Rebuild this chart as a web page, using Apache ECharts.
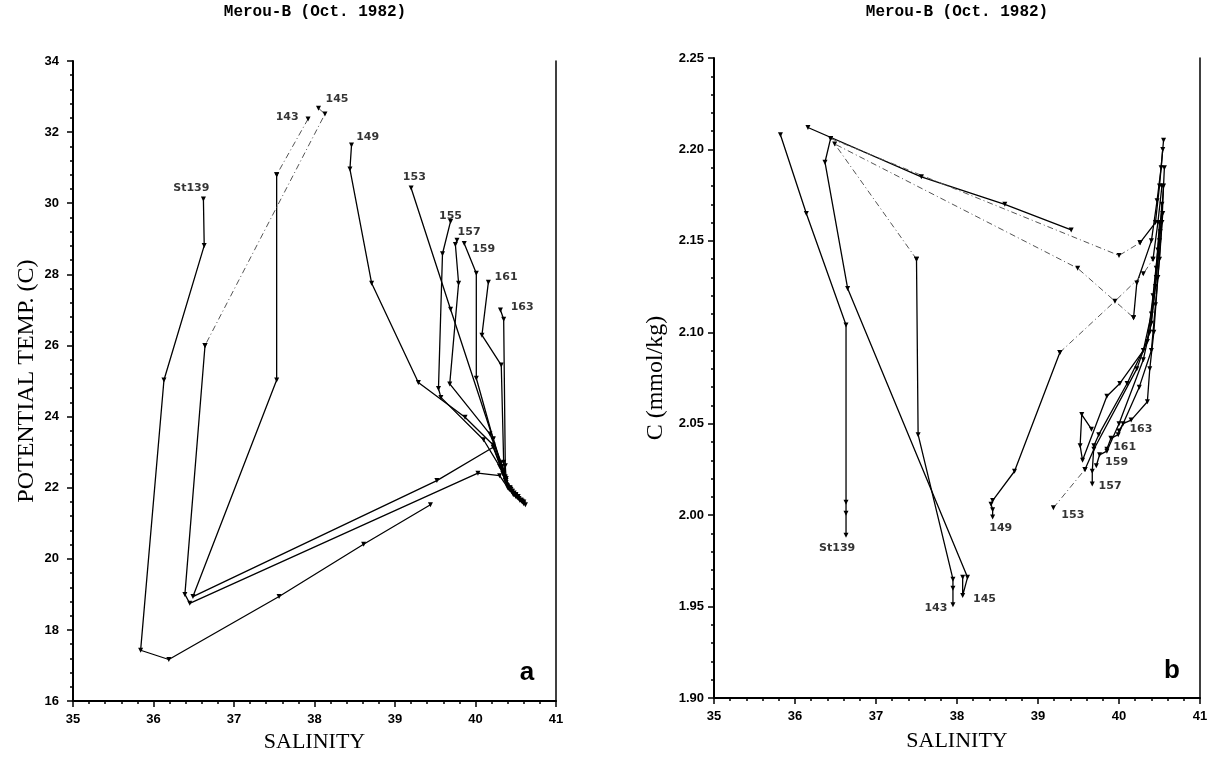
<!DOCTYPE html>
<html>
<head>
<meta charset="utf-8">
<title>Merou-B (Oct. 1982)</title>
<script src="https://cdn.jsdelivr.net/npm/echarts@6/dist/echarts.min.js"></script>
<style>
html, body { margin: 0; padding: 0; background: #fff; }
#chart { width: 1212px; height: 758px; }
</style>
</head>
<body>
<div id="chart"></div>
<script>
// panel a: [salinity, potential temp]; each station listed surface first
const st139A = [[36.62, 30.12], [36.63, 28.81], [36.13, 25.03], [35.84, 17.43], [36.19, 17.17], [37.56, 18.94], [38.61, 20.41], [39.44, 21.52]];
const st143ADash = [[37.92, 32.37], [37.53, 30.80]];
const st143A = [[37.53, 30.80], [37.53, 25.03], [36.49, 18.94], [39.52, 22.20], [40.22, 23.14], [40.36, 22.30], [40.42, 21.95], [40.50, 21.75], [40.58, 21.60]];
const st145ADash = [[38.05, 32.67], [38.13, 32.51], [36.64, 26.00]];
const st145A = [[36.64, 26.00], [36.39, 19.00], [36.45, 18.75], [40.03, 22.41], [40.30, 22.34], [40.40, 22.00], [40.47, 21.80], [40.55, 21.65], [40.60, 21.55]];
const st149A = [[38.46, 31.64], [38.44, 30.96], [38.71, 27.75], [39.29, 24.96], [39.87, 23.98], [40.22, 23.20], [40.34, 22.40], [40.40, 22.05], [40.48, 21.85], [40.54, 21.70]];
const st153A = [[39.20, 30.43], [39.69, 27.02], [40.22, 23.37], [40.33, 22.50], [40.38, 22.15], [40.45, 21.90], [40.52, 21.72], [40.60, 21.60]];
const st155A = [[39.69, 29.49], [39.59, 28.58], [39.54, 24.79], [39.57, 24.54], [40.10, 23.35], [40.30, 22.60], [40.37, 22.20], [40.44, 21.95], [40.50, 21.80]];
const st157A = [[39.77, 28.96], [39.75, 28.84], [39.79, 27.75], [39.68, 24.92], [40.18, 23.51], [40.32, 22.70], [40.38, 22.25], [40.43, 22.00], [40.50, 21.80], [40.57, 21.65]];
const st159A = [[39.86, 28.87], [40.01, 28.03], [40.01, 25.08], [40.22, 23.37], [40.33, 22.60], [40.38, 22.20], [40.46, 21.90], [40.53, 21.75]];
const st161A = [[40.16, 27.78], [40.08, 26.29], [40.32, 25.45], [40.35, 22.72], [40.37, 22.30], [40.42, 22.00], [40.50, 21.80], [40.58, 21.62]];
const st163A = [[40.31, 27.00], [40.35, 26.74], [40.37, 22.62], [40.38, 22.25], [40.43, 21.98], [40.50, 21.78], [40.56, 21.65], [40.62, 21.52]];

// panel b: [salinity, C (mmol/kg)]
const st139B = [[36.63, 1.989], [36.63, 2.001], [36.63, 2.007], [36.63, 2.104], [36.14, 2.165], [35.82, 2.208]];
const st139BDeep = [[36.16, 2.212], [37.56, 2.185], [38.59, 2.170], [39.41, 2.156]];
const st143B = [[37.95, 1.951], [37.95, 1.960], [37.95, 1.965], [37.52, 2.044], [37.50, 2.140]];
const st143BDash = [[37.50, 2.140], [36.49, 2.203], [39.49, 2.135], [40.18, 2.108]];
const st143BDeep = [[40.18, 2.108], [40.22, 2.127], [40.40, 2.150], [40.47, 2.172], [40.52, 2.190], [40.55, 2.205]];
const st145B = [[38.07, 1.966], [38.07, 1.956], [38.13, 1.966], [36.65, 2.124], [36.37, 2.193], [36.44, 2.206]];
const st145BDash = [[36.44, 2.206], [40.00, 2.142], [40.26, 2.149]];
const st145BDeep = [[40.26, 2.149], [40.45, 2.160], [40.50, 2.180], [40.54, 2.200]];
const st149B = [[38.44, 1.999], [38.44, 2.003], [38.42, 2.006], [38.44, 2.008], [38.71, 2.024], [39.27, 2.089]];
const st149BDash = [[39.27, 2.089], [39.95, 2.117], [40.30, 2.132], [40.42, 2.140]];
const st149BDeep = [[40.42, 2.140], [40.48, 2.160], [40.53, 2.180]];
const st153BDash = [[39.19, 2.004], [39.58, 2.025]];
const st153B = [[39.58, 2.025], [39.69, 2.036], [40.22, 2.080], [40.38, 2.100], [40.45, 2.125], [40.50, 2.150]];
const st155B = [[39.66, 2.047], [39.54, 2.055], [39.52, 2.038], [39.55, 2.030], [39.85, 2.065], [40.01, 2.072], [40.30, 2.090], [40.40, 2.110], [40.46, 2.135], [40.50, 2.160]];
const st157B = [[39.67, 2.017], [39.67, 2.024], [39.69, 2.038], [39.75, 2.044], [40.10, 2.072], [40.35, 2.095], [40.42, 2.120], [40.48, 2.145], [40.53, 2.170]];
const st159B = [[39.72, 2.027], [39.76, 2.033], [39.85, 2.035], [40.00, 2.050], [40.30, 2.085], [40.40, 2.105], [40.46, 2.130], [40.51, 2.155], [40.55, 2.180]];
const st161B = [[39.85, 2.036], [39.90, 2.042], [39.99, 2.044], [40.25, 2.070], [40.40, 2.090], [40.45, 2.115], [40.50, 2.140], [40.54, 2.165]];
const st163B = [[40.00, 2.046], [40.05, 2.050], [40.15, 2.052], [40.35, 2.062], [40.38, 2.080], [40.43, 2.100], [40.48, 2.130], [40.53, 2.160], [40.56, 2.190]];

// station labels, [salinity, value, text]
const labelsA = [[36.47, 30.43, 'St139'], [37.66, 32.43, '143'], [38.28, 32.93, '145'], [38.66, 31.87, '149'], [39.24, 30.72, '153'],
  [39.69, 29.65, '155'], [39.92, 29.18, '157'], [40.10, 28.70, '159'], [40.38, 27.91, '161'], [40.58, 27.09, '163']];
const labelsB = [[36.52, 1.982, 'St139'], [37.74, 1.949, '143'], [38.34, 1.954, '145'], [38.54, 1.993, '149'], [39.43, 2.000, '153'],
  [39.89, 2.016, '157'], [39.97, 2.029, '159'], [40.07, 2.037, '161'], [40.27, 2.047, '163']];

const title = 'Merou-B (Oct. 1982)';

function line(data, panel, dashed) {
  return {
    type: 'line', data: data, xAxisIndex: panel, yAxisIndex: panel * 2,
    symbol: 'triangle', symbolRotate: 180, symbolSize: 5,
    lineStyle: dashed ? { color: '#555', width: 1, type: [6, 3, 1, 3] } : { color: '#000', width: 1.3 },
    itemStyle: { color: '#000' },
    animation: false, silent: true
  };
}

function labels(data, panel) {
  return {
    type: 'scatter', data: data, xAxisIndex: panel, yAxisIndex: panel * 2,
    symbolSize: 0, animation: false, silent: true,
    label: {
      show: true, position: 'inside', formatter: p => p.value[2],
      color: '#000', fontFamily: 'DejaVu Sans', fontWeight: 'bold', fontSize: 11
    }
  };
}

const axisLine = { show: true, onZero: false, lineStyle: { color: '#000', width: 2 } };
const tickLabel = { color: '#000', fontFamily: 'Liberation Sans', fontWeight: 'bold', fontSize: 13 };
const nameStyle = { color: '#000', fontFamily: 'Liberation Serif', fontSize: 22 };

function xAxis(grid, gap) {
  return {
    type: 'value', gridIndex: grid, min: 35, max: 41, interval: 1,
    name: 'SALINITY', nameLocation: 'middle', nameGap: gap, nameTextStyle: nameStyle,
    axisLine: axisLine, axisTick: { length: 6, lineStyle: { color: '#000', width: 1.5 } },
    minorTick: { show: true, splitNumber: 5, length: 3, lineStyle: { color: '#000', width: 1.5 } },
    axisLabel: Object.assign({ margin: 12 }, tickLabel), splitLine: { show: false }
  };
}

function rightEdge(grid, min, max) {
  return {
    type: 'value', gridIndex: grid, position: 'right', min: min, max: max,
    axisLine: { show: true, lineStyle: { color: '#000', width: 1.5 } },
    axisTick: { show: false }, axisLabel: { show: false }, splitLine: { show: false }
  };
}

const chart = echarts.init(document.getElementById('chart'));
chart.setOption({
  backgroundColor: '#fff',
  grid: [
    { left: 73, right: 656, top: 61, bottom: 55 },
    { left: 714, right: 12, top: 58, bottom: 60 }
  ],
  xAxis: [xAxis(0, 28), xAxis(1, 32)],
  yAxis: [
    {
      type: 'value', gridIndex: 0, min: 16, max: 34, interval: 2,
      name: 'POTENTIAL TEMP. (C)', nameLocation: 'middle', nameRotate: 90, nameGap: 34,
      nameTextStyle: Object.assign({}, nameStyle, { fontSize: 24 }),
      axisLine: axisLine, axisTick: { length: 6, lineStyle: { color: '#000', width: 1.5 } },
      minorTick: { show: true, splitNumber: 5, length: 3, lineStyle: { color: '#000', width: 1.5 } },
      axisLabel: Object.assign({ margin: 14 }, tickLabel), splitLine: { show: false }
    },
    rightEdge(0, 16, 34),
    {
      type: 'value', gridIndex: 1, min: 1.90, max: 2.25, interval: 0.05,
      name: 'C (mmol/kg)', nameLocation: 'middle', nameRotate: 90, nameGap: 46,
      nameTextStyle: Object.assign({}, nameStyle, { fontSize: 24 }),
      axisLine: axisLine, axisTick: { length: 6, lineStyle: { color: '#000', width: 1.5 } },
      minorTick: { show: true, splitNumber: 5, length: 3, lineStyle: { color: '#000', width: 1.5 } },
      axisLabel: Object.assign({ margin: 10, formatter: v => v.toFixed(2) }, tickLabel), splitLine: { show: false }
    },
    rightEdge(1, 1.90, 2.25)
  ],
  graphic: [
    { type: 'text', x: 315, y: 4, style: { text: title, textAlign: 'center', font: 'bold 16px "Liberation Mono"', fill: '#000' } },
    { type: 'text', x: 957, y: 4, style: { text: title, textAlign: 'center', font: 'bold 16px "Liberation Mono"', fill: '#000' } },
    { type: 'text', x: 527, y: 660, style: { text: 'a', textAlign: 'center', font: 'bold 26px "Liberation Sans"', fill: '#000' } },
    { type: 'text', x: 1172, y: 658, style: { text: 'b', textAlign: 'center', font: 'bold 26px "Liberation Sans"', fill: '#000' } }
  ],
  series: [
    line(st139A, 0), line(st143ADash, 0, true), line(st143A, 0), line(st145ADash, 0, true), line(st145A, 0),
    line(st149A, 0), line(st153A, 0), line(st155A, 0), line(st157A, 0), line(st159A, 0), line(st161A, 0), line(st163A, 0),
    labels(labelsA, 0),
    line(st139B, 1), line(st139BDeep, 1), line(st143B, 1), line(st143BDash, 1, true), line(st143BDeep, 1),
    line(st145B, 1), line(st145BDash, 1, true), line(st145BDeep, 1),
    line(st149B, 1), line(st149BDash, 1, true), line(st149BDeep, 1),
    line(st153BDash, 1, true), line(st153B, 1), line(st155B, 1), line(st157B, 1), line(st159B, 1), line(st161B, 1), line(st163B, 1),
    labels(labelsB, 1)
  ]
});
</script>
</body>
</html>
